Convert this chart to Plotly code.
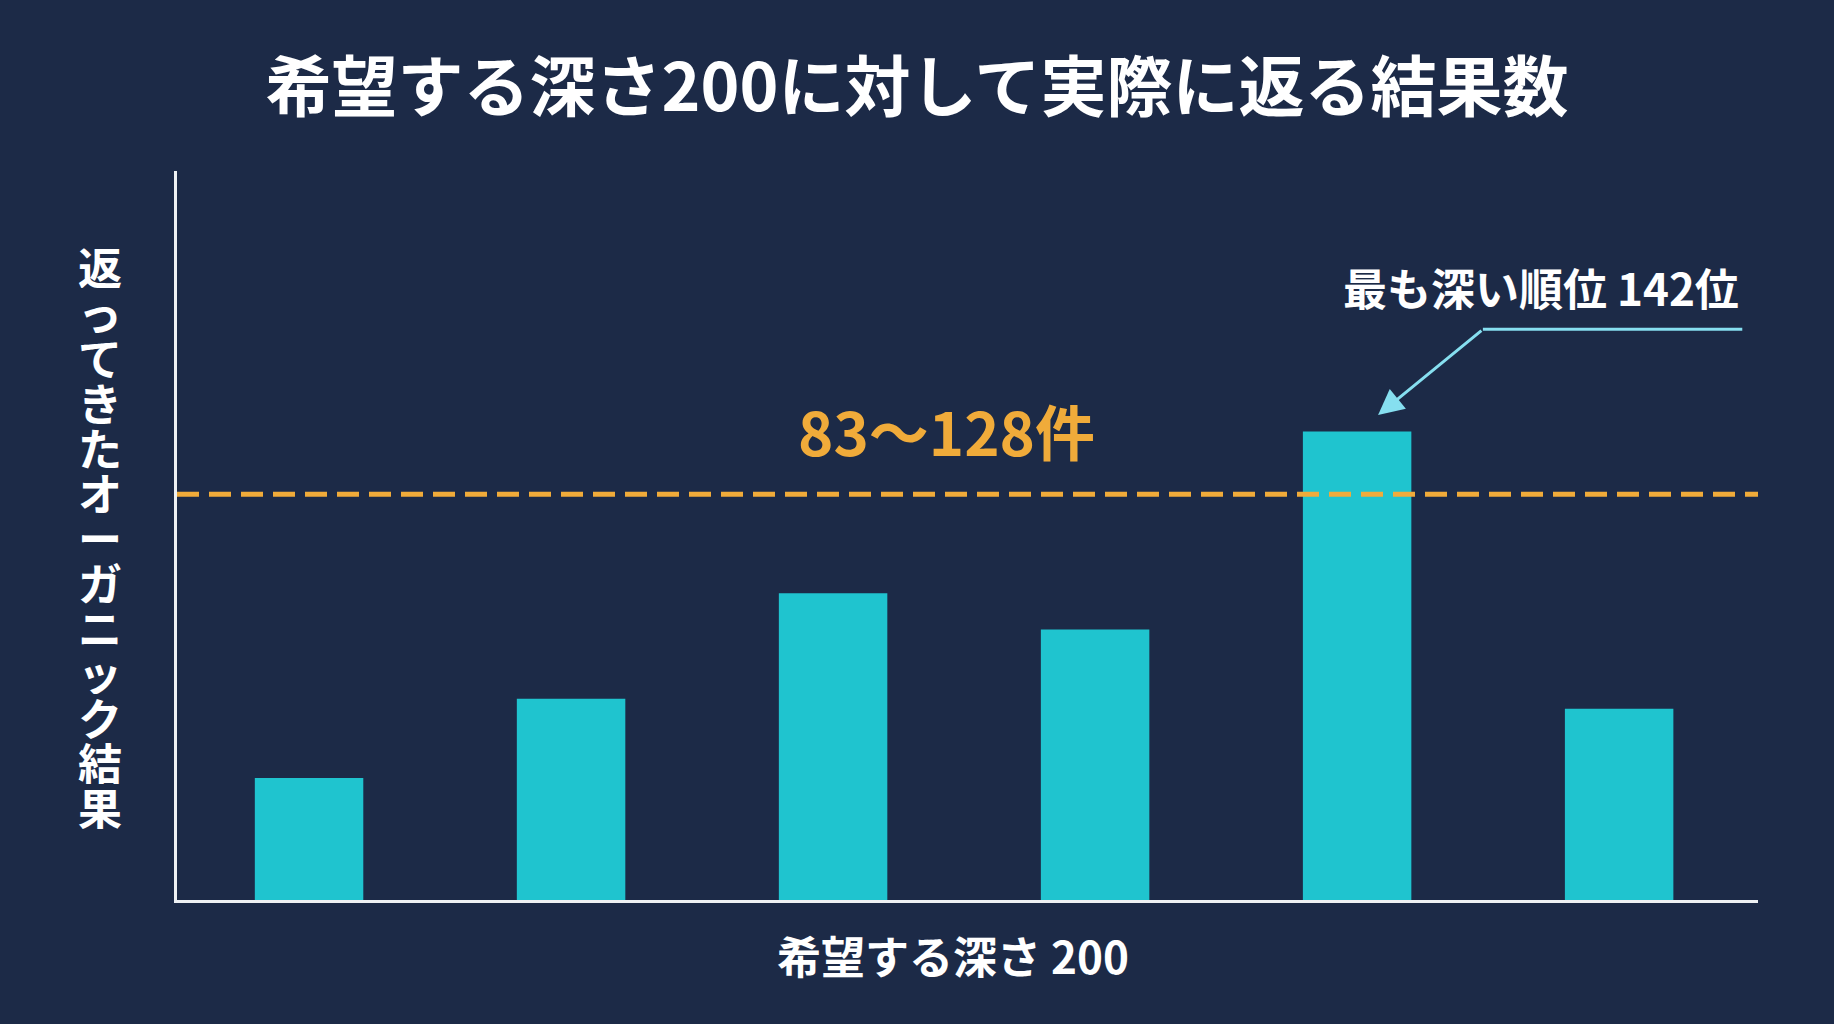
import plotly.graph_objects as go

# データ（画像から読み取った概算値）
categories = ["1", "2", "3", "4", "5", "6"]
results = [37, 61, 93, 82, 142, 58]
threshold = 123
y_max = 221

title_text = "希望する深さ200に対して実際に返る結果数"
y_title = "返ってきたオーガニック結果"
x_title = "希望する深さ 200"
range_label = "83〜128件"
deepest_label = "最も深い順位 142位"

BG = "#1c2a47"
BAR = "#1fc4cf"
ORANGE = "#f0ab3a"
ARROW = "#86dff0"
FONT = "Noto Sans CJK JP"

fig = go.Figure(go.Bar(
    x=list(range(len(categories))), y=results,
    marker=dict(color=BAR, line=dict(width=0)),
    width=0.414, hoverinfo="skip",
))

# 破線（棒の上に描く）
fig.add_shape(type="line", xref="paper", yref="y", x0=0, x1=1, y0=threshold, y1=threshold,
              line=dict(color=ORANGE, width=5, dash="22px,10px"), layer="above")

fig.add_annotation(text=range_label, xref="paper", yref="y", x=0.487, y=threshold + 19.5,
                   showarrow=False, xanchor="center", yanchor="middle",
                   font=dict(family=FONT, size=60, color=ORANGE, weight="bold"))

# 最深順位の注記と矢印
i_max = results.index(max(results))
fig.add_shape(type="line", xref="x", yref="y", x0=i_max + 0.48, x1=5.47,
              y0=max(results) + 31, y1=max(results) + 31,
              line=dict(color=ARROW, width=3))
fig.add_annotation(x=i_max + 0.08, y=max(results) + 5, ax=i_max + 0.48, ay=max(results) + 31,
                   xref="x", yref="y", axref="x", ayref="y", text="", showarrow=True,
                   arrowhead=2, arrowsize=1.7, arrowwidth=3, arrowcolor=ARROW)
fig.add_annotation(text=deepest_label, xref="paper", yref="paper", x=0.989, y=0.841,
                   showarrow=False, xanchor="right", yanchor="middle",
                   font=dict(family=FONT, size=44, color="white", weight="bold"))

# 縦書きの軸タイトル（1文字ずつ縦に並べる）
n = len(y_title)
for k, ch in enumerate(y_title):
    fig.add_annotation(text=ch, xref="paper", yref="paper", x=-0.049,
                       y=0.869 - k * (0.741 / (n - 1)), showarrow=False,
                       xanchor="center", yanchor="middle", height=44, borderpad=0,
                       font=dict(family=FONT, size=44, color="white", weight="bold"))

fig.add_annotation(text=x_title, xref="paper", yref="paper", x=0.491, y=-0.075,
                   showarrow=False, xanchor="center", yanchor="middle",
                   font=dict(family=FONT, size=44, color="white", weight="bold"))

fig.update_layout(
    width=1834, height=1024,
    paper_bgcolor=BG, plot_bgcolor=BG,
    margin=dict(l=177, r=76, t=171, b=124),
    title=dict(text=title_text, x=0.5, xanchor="center", y=0.914, yanchor="middle",
               font=dict(family=FONT, size=66, color="white", weight="bold")),
    showlegend=False,
    xaxis=dict(range=[-0.504, 5.53], showgrid=False, zeroline=False, showticklabels=False,
               ticks="", showline=True, linecolor="#eef1f4", linewidth=3),
    yaxis=dict(range=[0, y_max], showgrid=False, zeroline=False, showticklabels=False,
               ticks="", showline=True, linecolor="#eef1f4", linewidth=3),
)

fig.write_html("out.html", config={"displayModeBar": False},
               post_script="document.body.style.margin='0';")
